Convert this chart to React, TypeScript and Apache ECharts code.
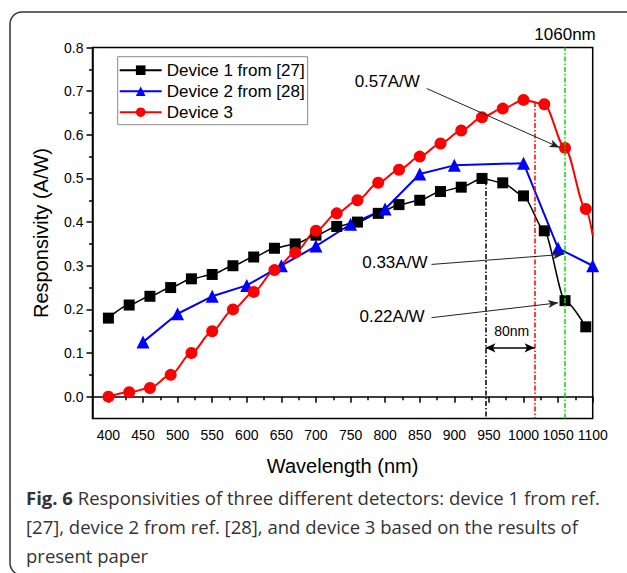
import React, { useEffect, useRef } from "react";
import * as echarts from "echarts";

const FONT = '"Liberation Sans", Arial, Helvetica, sans-serif';
const CAP_FONT = '"Open Sans", "Noto Sans", sans-serif';

// ---- data ----
const wavelength1 = [400, 430, 460, 490, 520, 550, 580, 610, 640, 670, 700, 730, 760, 790, 820, 850, 880, 910, 940, 970, 1000, 1030, 1060, 1090];
const device1 = [0.18, 0.21, 0.23, 0.25, 0.27, 0.28, 0.30, 0.32, 0.34, 0.35, 0.37, 0.39, 0.40, 0.42, 0.44, 0.45, 0.47, 0.48, 0.50, 0.49, 0.46, 0.38, 0.22, 0.16];

const wavelength2 = [450, 500, 550, 600, 650, 700, 750, 800, 850, 900, 1000, 1050, 1100];
const device2 = [0.125, 0.19, 0.23, 0.255, 0.30, 0.345, 0.395, 0.43, 0.51, 0.53, 0.535, 0.34, 0.30];

const wavelength3 = [400, 430, 460, 490, 520, 550, 580, 610, 640, 670, 700, 730, 760, 790, 820, 850, 880, 910, 940, 970, 1000, 1030, 1060, 1090, 1100];
const device3 = [0.0, 0.01, 0.02, 0.05, 0.10, 0.15, 0.20, 0.24, 0.29, 0.33, 0.38, 0.42, 0.45, 0.49, 0.52, 0.55, 0.58, 0.61, 0.64, 0.66, 0.68, 0.67, 0.57, 0.43, 0.37];

const seriesNames = ["Device 1 from [27]", "Device 2 from [28]", "Device 3"];

const xMajorTicks = [400, 450, 500, 550, 600, 650, 700, 750, 800, 850, 900, 950, 1000, 1050, 1100];
const xMinorTicks = [425, 475, 525, 575, 625, 675, 725, 775, 825, 875, 925, 975, 1025, 1075];
const yMajorTicks = [0, 0.1, 0.2, 0.3, 0.4, 0.5, 0.6, 0.7, 0.8];
const yMinorTicks = [0.05, 0.15, 0.25, 0.35, 0.45, 0.55, 0.65, 0.75];

const xMin = 377;
const xMax = 1100;
const yMin = -0.05;
const yMax = 0.8;

// reference lines (nm)
const peakDevice1 = 945;
const peakDevice3 = 1016;
const targetWavelength = 1060;

// annotations: [label, text x, text y, arrow start x, arrow start y, arrow end x, arrow end y]
const annotations: [string, number, number, number, number, number, number][] = [
  ["0.57A/W", 803, 0.722, 860, 0.706, 1052, 0.571],
  ["0.33A/W", 814, 0.307, 867, 0.303, 1057, 0.326],
  ["0.22A/W", 810, 0.184, 867, 0.181, 1050, 0.215],
];
const gapLabel = "80nm";
const gapLabelPos = [983, 0.1515];
const gapArrowY = 0.112;

const captionLines = [
  "{b|Fig. 6} Responsivities of three different detectors: device 1 from ref.",
  "[27], device 2 from ref. [28], and device 3 based on the results of",
  "present paper",
];

function buildOption() {
  const dashDot = [5, 2, 1.5, 2];
  const toPairs = (xs: number[], ys: number[]) => xs.map((x, i) => [x, ys[i]]);
  const d3 = wavelength3.map((x, i) =>
    i === wavelength3.length - 1 ? { value: [x, device3[i]], symbol: "none" } : [x, device3[i]]
  );

  const markLines: any[] = [
    [
      { coord: [peakDevice1, 0.495], lineStyle: { color: "#000", width: 1.5, type: dashDot } },
      { coord: [peakDevice1, yMin] },
    ],
    [
      { coord: [peakDevice3, 0.675], lineStyle: { color: "#ff0000", width: 1.5, type: dashDot } },
      { coord: [peakDevice3, yMin] },
    ],
    [
      {
        coord: [targetWavelength, yMin],
        lineStyle: { color: "#00e000", width: 1.5, type: dashDot },
        label: { show: true, position: "end", formatter: "1060nm", fontSize: 17, color: "#000", fontFamily: FONT, distance: 5 },
      },
      { coord: [targetWavelength, yMax] },
    ],
    [
      { coord: [peakDevice1, gapArrowY], symbol: "arrow", symbolSize: [7, 10], lineStyle: { color: "#000", width: 1.5, type: "solid" } },
      { coord: [peakDevice3, gapArrowY], symbol: "arrow", symbolSize: [7, 10] },
    ],
  ];
  annotations.forEach((a) => {
    markLines.push([
      { coord: [a[3], a[4]], symbol: "none", lineStyle: { color: "#222", width: 1, type: "solid" } },
      { coord: [a[5], a[6]], symbol: "arrow", symbolSize: [6, 10] },
    ]);
  });

  const markPoints: any[] = annotations.map((a) => ({
    name: a[0],
    coord: [a[1], a[2]],
  }));
  markPoints.push({ name: gapLabel, coord: gapLabelPos, label: { fontSize: 14 } });

  return {
    animation: false,
    backgroundColor: "#fff",
    textStyle: { fontFamily: FONT },
    grid: { left: 92.5, right: 34.3, top: 47.5, bottom: 154.5, show: true, borderColor: "#000", borderWidth: 1.5, backgroundColor: "transparent", outerBoundsMode: "none", containLabel: false },
    legend: {
      data: seriesNames,
      orient: "vertical",
      left: 117.7,
      top: 56.7,
      padding: [5, 3, 4, 1],
      itemWidth: 42,
      itemHeight: 12,
      itemGap: 4,
      borderColor: "#888",
      borderWidth: 1,
      backgroundColor: "#fff",
      textStyle: { fontSize: 17, color: "#000", fontFamily: FONT },
      selectedMode: false,
    },
    xAxis: [
      {
        type: "value",
        min: xMin,
        max: xMax,
        name: "Wavelength (nm)",
        nameLocation: "middle",
        nameGap: 37,
        nameTextStyle: { fontSize: 20, color: "#000", fontFamily: FONT },
        axisLine: { show: true, lineStyle: { color: "#000", width: 1.5 } },
        axisTick: { show: true, length: 6, lineStyle: { color: "#000", width: 1.5 }, customValues: xMajorTicks },
        axisLabel: { show: true, customValues: xMajorTicks, fontSize: 14, color: "#000", margin: 9, fontFamily: FONT, hideOverlap: false, showMaxLabel: true, formatter: (v: number) => String(v) },
        splitLine: { show: false },
      },
      {
        type: "value",
        min: xMin,
        max: xMax,
        position: "bottom",
        axisLine: { show: false },
        axisTick: { show: true, length: 3.5, lineStyle: { color: "#000", width: 1.5 }, customValues: xMinorTicks },
        axisLabel: { show: false },
        splitLine: { show: false },
      },
    ],
    yAxis: [
      {
        type: "value",
        min: yMin,
        max: yMax,
        name: "Responsivity (A/W)",
        nameLocation: "middle",
        nameRotate: 90,
        nameGap: 42,
        nameTextStyle: { fontSize: 20, color: "#000", fontFamily: FONT },
        axisLine: { show: true, lineStyle: { color: "#000", width: 1.5 } },
        axisTick: { show: true, length: 6, lineStyle: { color: "#000", width: 1.5 }, customValues: yMajorTicks },
        axisLabel: { show: true, customValues: yMajorTicks, fontSize: 14, color: "#000", margin: 9, fontFamily: FONT, formatter: (v: number) => v.toFixed(1) },
        splitLine: { show: false },
      },
      {
        type: "value",
        min: yMin,
        max: yMax,
        position: "left",
        axisLine: { show: false },
        axisTick: { show: true, length: 3.5, lineStyle: { color: "#000", width: 1.5 }, customValues: yMinorTicks },
        axisLabel: { show: false },
        splitLine: { show: false },
      },
    ],
    series: [
      {
        name: seriesNames[0],
        type: "line",
        data: toPairs(wavelength1, device1),
        symbol: "rect",
        symbolSize: 11,
        smooth: 0.25,
        smoothMonotone: "x",
        lineStyle: { color: "#000", width: 1.5 },
        itemStyle: { color: "#000" },
        silent: true,
      },
      {
        name: seriesNames[1],
        type: "line",
        data: toPairs(wavelength2, device2),
        symbol: "triangle",
        symbolSize: 13,
        lineStyle: { color: "#0000ff", width: 2 },
        itemStyle: { color: "#0000ff" },
        silent: true,
      },
      {
        name: seriesNames[2],
        type: "line",
        data: d3,
        symbol: "circle",
        symbolSize: 12,
        smooth: 0.3,
        smoothMonotone: "x",
        lineStyle: { color: "#ff0000", width: 2 },
        itemStyle: { color: "#ff0000" },
        silent: true,
      },
      {
        name: "annotations",
        type: "line",
        data: [],
        silent: true,
        markLine: {
          silent: true,
          animation: false,
          symbol: ["none", "none"],
          label: { show: false },
          emphasis: { disabled: true },
          data: markLines,
        },
        markPoint: {
          silent: true,
          animation: false,
          symbol: "circle",
          symbolSize: 0,
          itemStyle: { color: "transparent" },
          label: { show: true, position: "inside", color: "#000", fontSize: 17, fontFamily: FONT, formatter: (p: any) => p.name },
          data: markPoints,
        },
      },
    ],
    graphic: [
      {
        type: "rect",
        silent: true,
        z: -10,
        shape: { x: 10, y: 12, width: 700, height: 563, r: 12 },
        style: { fill: "none", stroke: "#333", lineWidth: 1.5 },
      },
      ...captionLines.map((t, i) => ({
        type: "text",
        silent: true,
        x: 26,
        y: 497 + i * 29,
        style: {
          text: t,
          fontSize: 18.5,
          fontFamily: CAP_FONT,
          fill: "#333",
          verticalAlign: "middle",
          rich: { b: { fontWeight: "bold", fontSize: 18.5, fontFamily: CAP_FONT, fill: "#333" } },
        },
      })),
    ],
  };
}

export default function App() {
  const ref = useRef<HTMLDivElement>(null);
  useEffect(() => {
    if (!ref.current) return;
    const chart = echarts.init(ref.current, null, { renderer: "svg" });
    chart.setOption(buildOption() as any);
    return () => chart.dispose();
  }, []);
  return (
    <div
      ref={ref}
      style={{ position: "absolute", left: 0, top: 0, width: 627, height: 573, background: "#fff" }}
    />
  );
}
